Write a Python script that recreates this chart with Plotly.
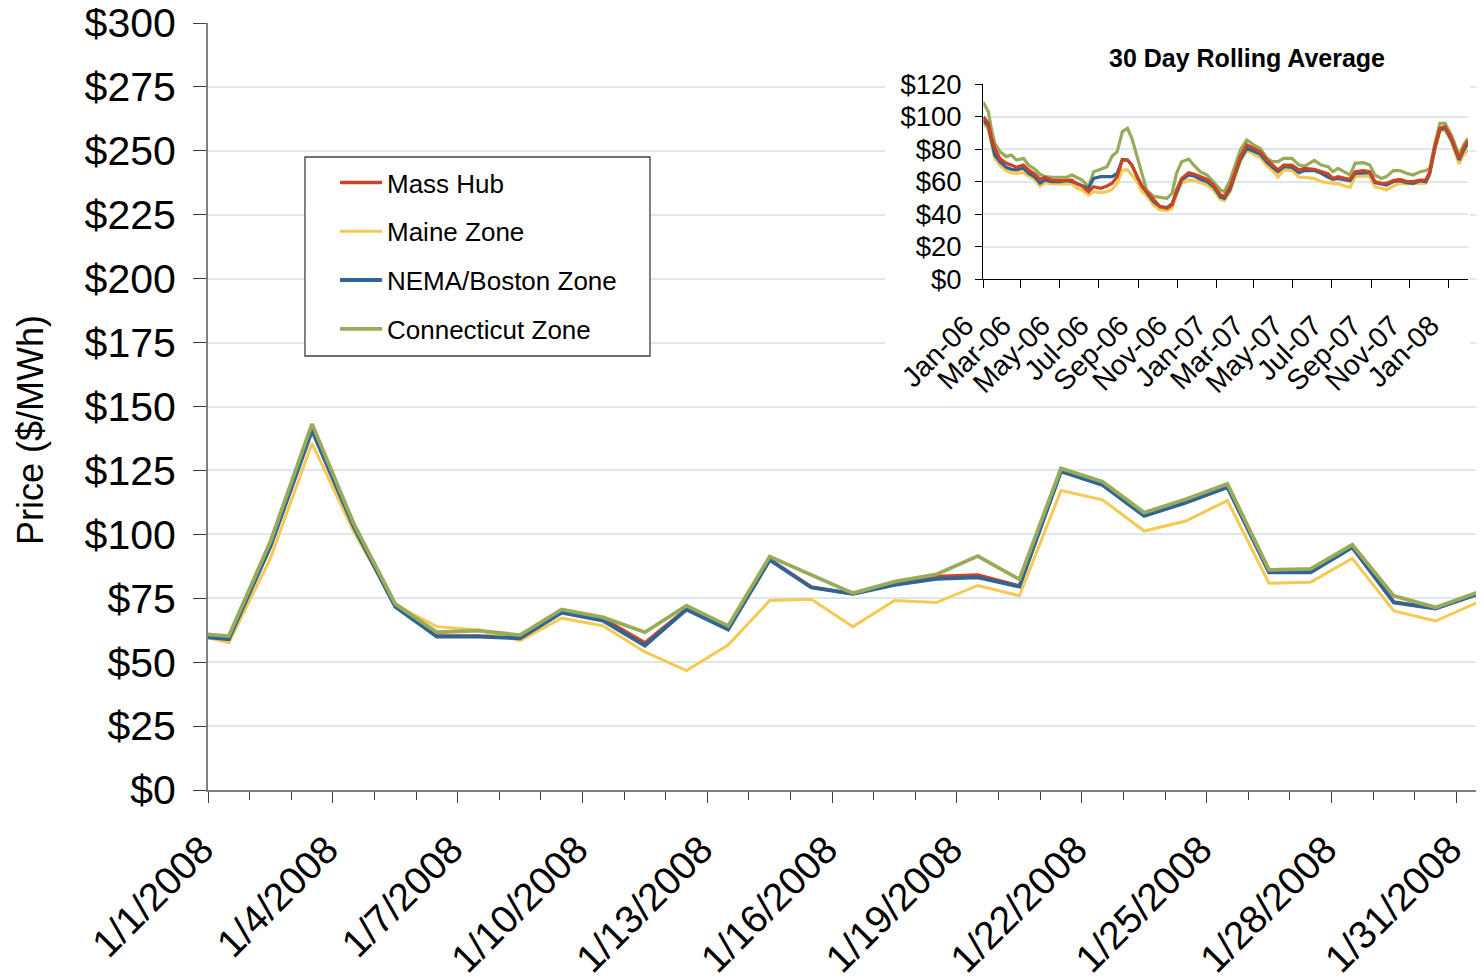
import pandas as pd
import plotly.graph_objects as go

FONT = "Liberation Sans, Arial, sans-serif"

# ---------------- main chart data (daily, shown at noon) ----------------
main_dates = [
    "2007-12-31 12:00", "2008-01-01 12:00", "2008-01-02 12:00", "2008-01-03 12:00",
    "2008-01-04 12:00", "2008-01-05 12:00", "2008-01-06 12:00", "2008-01-07 12:00",
    "2008-01-08 12:00", "2008-01-09 12:00", "2008-01-10 12:00", "2008-01-11 12:00",
    "2008-01-12 12:00", "2008-01-13 12:00", "2008-01-14 12:00", "2008-01-15 12:00",
    "2008-01-16 12:00", "2008-01-17 12:00", "2008-01-18 12:00", "2008-01-19 12:00",
    "2008-01-20 12:00", "2008-01-21 12:00", "2008-01-22 12:00", "2008-01-23 12:00",
    "2008-01-24 12:00", "2008-01-25 12:00", "2008-01-26 12:00", "2008-01-27 12:00",
    "2008-01-28 12:00", "2008-01-29 12:00", "2008-01-30 12:00", "2008-01-31 12:00",
]
mass_hub = [60.5, 59.2, 95.5, 141.0, 103.2, 71.9, 60.2, 60.2, 59.7, 69.6, 67.0, 57.6,
            70.8, 63.0, 90.2, 79.4, 76.8, 80.4, 83.5, 84.1, 79.8, 124.8, 119.5, 107.4,
            112.6, 118.6, 85.3, 85.3, 95.1, 73.5, 71.1, 76.6]
maine = [61.5, 57.6, 90.6, 135.6, 101.1, 72.4, 63.9, 62.6, 58.4, 67.2, 64.2, 54.0,
         46.7, 56.7, 74.1, 74.6, 63.9, 74.1, 73.3, 80.0, 76.0, 117.1, 113.5, 101.3,
         105.2, 113.2, 80.9, 81.3, 90.6, 70.0, 66.1, 73.3]
nema = [60.4, 59.0, 95.2, 140.6, 103.0, 71.7, 60.0, 60.0, 59.3, 69.4, 66.2, 56.5,
        70.6, 62.8, 90.0, 79.2, 76.7, 80.2, 82.6, 83.2, 79.6, 124.6, 119.3, 107.2,
        112.4, 118.4, 85.1, 85.1, 94.9, 73.3, 71.0, 76.5]
connecticut = [61.6, 60.2, 97.2, 143.2, 104.3, 72.8, 61.7, 62.3, 60.6, 70.6, 67.5, 61.7,
               72.1, 64.2, 91.3, 84.3, 77.0, 81.5, 84.3, 91.5, 82.4, 125.8, 120.6, 108.5,
               113.7, 119.7, 86.1, 86.5, 95.9, 75.9, 71.4, 77.2]

# ---------------- inset: 30 day rolling average ----------------
inset_dates = [
    "2006-01-01", "2006-01-09", "2006-01-14", "2006-01-19", "2006-01-27", "2006-02-06",
    "2006-02-14", "2006-02-22", "2006-03-05", "2006-03-13", "2006-03-23", "2006-03-31",
    "2006-04-08", "2006-04-18", "2006-05-01", "2006-05-12", "2006-05-20", "2006-05-28",
    "2006-06-05", "2006-06-15", "2006-06-23", "2006-07-04", "2006-07-14", "2006-07-22",
    "2006-07-30", "2006-08-07", "2006-08-15", "2006-08-22", "2006-08-30", "2006-09-07",
    "2006-09-14", "2006-09-25", "2006-10-05", "2006-10-16", "2006-10-24", "2006-10-31",
    "2006-11-08", "2006-11-19", "2006-11-27", "2006-12-07", "2006-12-18", "2006-12-28",
    "2007-01-08", "2007-01-14", "2007-01-23", "2007-01-31", "2007-02-08", "2007-02-18",
    "2007-03-01", "2007-03-11", "2007-03-22", "2007-03-30", "2007-04-08", "2007-04-17",
    "2007-04-30", "2007-05-11", "2007-05-20", "2007-06-04", "2007-06-15", "2007-06-26",
    "2007-07-03", "2007-07-11", "2007-07-22", "2007-07-30", "2007-08-07", "2007-08-20",
    "2007-08-30", "2007-09-07", "2007-09-17", "2007-09-25", "2007-10-06", "2007-10-16",
    "2007-10-27", "2007-11-06", "2007-11-17", "2007-11-26", "2007-12-02", "2007-12-10",
    "2007-12-18", "2007-12-26", "2008-01-05", "2008-01-17", "2008-01-24", "2008-01-31",
]
avg_mass_hub = [100, 96, 86.8, 80.6, 74.4, 71.4, 70.3, 68.9, 70.3, 67.3, 64.6, 61.5,
                62.8, 61.1, 60.7, 61.1, 61.1, 58.7, 57.4, 53.9, 57.0, 56.0, 57.4, 59.1,
                63.2, 73.4, 73.4, 70.3, 63.2, 57.0, 54.0, 48.8, 44.7, 43.7, 45.7, 55.0,
                62.1, 65.6, 64.8, 63.2, 61.5, 58.0, 51.9, 50.9, 57.0, 66.2, 75.5, 82.7,
                80.6, 78.6, 73.4, 70.3, 67.3, 70.3, 70.3, 67.3, 68.3, 67.7, 66.2, 64.8,
                62.1, 63.2, 62.1, 61.5, 66.2, 66.9, 66.2, 60.1, 59.1, 59.1, 60.7, 61.5,
                60.1, 60.1, 61.1, 61.1, 66.2, 81.6, 92.9, 93.9, 86.8, 74.4, 80.6, 85.3]
avg_maine = [96, 92, 83, 74.4, 70.3, 66.9, 65.6, 65.2, 65.6, 63.6, 61.1, 57.4,
             59.5, 58.7, 58.7, 59.1, 58.7, 56.0, 55.0, 51.9, 53.9, 53.3, 53.9, 55.4,
             59.1, 67.3, 67.3, 64.2, 60.1, 53.9, 51.5, 45.7, 42.7, 42.3, 43.7, 51.9,
             59.1, 61.1, 60.7, 59.5, 58.0, 55.0, 49.2, 48.4, 53.9, 62.8, 72.4, 79.2,
             77.1, 75.1, 69.7, 67.3, 62.8, 67.3, 66.9, 62.8, 62.8, 62.0, 60.1, 59.5,
             59.1, 58.7, 57.4, 56.6, 63.2, 63.6, 63.2, 57.0, 56.0, 55.0, 57.4, 59.1,
             58.7, 58.7, 59.1, 59.1, 64.2, 79.6, 90.9, 91.9, 84.7, 71.0, 76.5, 79.6]
avg_nema = [98, 94, 85, 76.5, 72.4, 68.9, 67.7, 67.3, 68.3, 65.2, 62.8, 59.1,
            61.1, 60.1, 60.1, 60.7, 60.1, 58.7, 57.4, 56.0, 62.1, 63.2, 63.2, 63.2,
            65.2, 73.8, 73.4, 70.3, 63.2, 57.4, 53.5, 47.8, 44.7, 44.2, 46.4, 53.9,
            61.1, 64.2, 63.6, 61.5, 60.1, 57.0, 50.5, 49.8, 55.4, 64.8, 73.8, 80.6,
            78.6, 77.1, 71.8, 68.9, 66.2, 69.3, 68.9, 65.6, 66.9, 66.9, 65.2, 62.8,
            61.5, 62.1, 61.5, 60.7, 65.2, 65.6, 65.6, 59.5, 58.7, 58.0, 60.1, 60.7,
            59.5, 59.1, 60.7, 60.1, 65.2, 80.6, 92.3, 92.9, 85.7, 73.4, 79.2, 83.7]
avg_connecticut = [109, 103, 91.9, 83.7, 78.6, 75.5, 76.5, 73.4, 74.4, 70.3, 67.7, 64.6,
                   63.2, 62.8, 62.8, 62.8, 64.2, 62.6, 61.1, 57.0, 66.2, 67.7, 69.3, 75.9,
                   78.6, 90.9, 92.9, 86.8, 75.5, 63.2, 55.0, 51.0, 50.2, 49.8, 52.9, 65.2,
                   72.4, 74.0, 70.3, 66.2, 64.2, 60.1, 55.0, 53.9, 61.1, 70.3, 79.6, 85.7,
                   82.7, 80.6, 74.4, 72.4, 72.4, 74.4, 74.4, 70.3, 69.7, 73.2, 70.3, 69.3,
                   66.2, 68.3, 66.2, 64.2, 71.4, 71.8, 70.3, 64.2, 62.1, 63.2, 66.9, 66.9,
                   65.2, 64.2, 66.2, 66.9, 68.3, 83.7, 96.0, 96.0, 88.8, 76.5, 82.7, 86.8]

inset_tickvals = ["2006-01-01", "2006-03-01", "2006-05-01", "2006-07-01", "2006-09-01",
                  "2006-11-01", "2007-01-01", "2007-03-01", "2007-05-01", "2007-07-01",
                  "2007-09-01", "2007-11-01", "2008-01-01"]
inset_ticktext = ["Jan-06", "Mar-06", "May-06", "Jul-06", "Sep-06", "Nov-06", "Jan-07",
                  "Mar-07", "May-07", "Jul-07", "Sep-07", "Nov-07", "Jan-08"]

names = ["Mass Hub", "Maine Zone", "NEMA/Boston Zone", "Connecticut Zone"]
colors = ["#CB4424", "#F6C955", "#2F6495", "#98AB5B"]
main_series = [mass_hub, maine, nema, connecticut]
inset_series = [avg_mass_hub, avg_maine, avg_nema, avg_connecticut]

# geometry (page pixels; the page body has an 8px margin)
PAGE_OFF = 8
PLOT_L, PLOT_R, PLOT_T, PLOT_B = 208, 1484, 23, 790
X_START = pd.Timestamp("2008-01-01 00:00")
X_END = pd.Timestamp("2008-01-31 16:00")
Y_MAX = 300


def px_to_date(px):
    frac = (px - PLOT_L) / (PLOT_R - PLOT_L)
    return (X_START + (X_END - X_START) * frac).strftime("%Y-%m-%d %H:%M")


def py_to_val(py):
    return (PLOT_B - py) / (PLOT_B - PLOT_T) * Y_MAX


def px_paper(px):
    return (px - PLOT_L) / (PLOT_R - PLOT_L)


def py_paper(py):
    return (PLOT_B - py) / (PLOT_B - PLOT_T)


fig = go.Figure()

main_widths = [3.5, 3.0, 3.8, 3.8]
for name, col, ys, w in zip(names, colors, main_series, main_widths):
    fig.add_trace(go.Scatter(x=main_dates, y=ys, name=name, mode="lines",
                             line=dict(color=col, width=w), legendgroup=name,
                             xaxis="x", yaxis="y"))

# inset order: yellow, green, blue, red (red on top)
for idx in [1, 3, 2, 0]:
    fig.add_trace(go.Scatter(x=inset_dates, y=inset_series[idx], name=names[idx],
                             mode="lines", line=dict(color=colors[idx], width=3.2),
                             showlegend=False, xaxis="x2", yaxis="y2"))

GRID = "#DCE8EC"
FIG_W = 1484 - PAGE_OFF
FIG_H = 980 - PAGE_OFF
fig.update_layout(
    width=FIG_W, height=FIG_H,
    margin=dict(l=PLOT_L - PAGE_OFF, r=0, t=PLOT_T - PAGE_OFF,
                b=FIG_H - (PLOT_B - PAGE_OFF), autoexpand=False),
    paper_bgcolor="white", plot_bgcolor="white",
    font=dict(family=FONT, color="black"),
    showlegend=True,
    legend=dict(x=px_paper(335), y=py_paper(159), xanchor="left", yanchor="top",
                bgcolor="rgba(0,0,0,0)", borderwidth=0,
                font=dict(size=26, family=FONT, color="black"),
                traceorder="grouped", tracegroupgap=12, itemwidth=42),
    xaxis=dict(
        type="date", domain=[0, 1],
        range=[X_START.strftime("%Y-%m-%d %H:%M"), X_END.strftime("%Y-%m-%d %H:%M")],
        tick0="2008-01-01", dtick=3 * 86400000, tickformat="%-m/%-d/%Y",
        tickangle=-45, tickfont=dict(size=39, family=FONT, color="black"),
        ticks="outside", ticklen=11, tickcolor="#404040", tickwidth=1.3,
        ticklabelstandoff=8, ticklabelshift=-6, ticklabeloverflow="allow",
        minor=dict(dtick=86400000, ticks="outside", ticklen=8, tickcolor="#404040",
                   tickwidth=1.3, showgrid=False),
        showline=True, linecolor="#808080", linewidth=2,
        showgrid=False, zeroline=False,
    ),
    yaxis=dict(
        range=[0, Y_MAX], dtick=25, tickprefix="$",
        tickfont=dict(size=41, family=FONT, color="black"),
        ticks="outside", ticklen=13, tickcolor="#404040", tickwidth=1.3,
        ticklabelstandoff=9, ticklabeloverflow="allow",
        showline=True, linecolor="#808080", linewidth=2,
        showgrid=True, gridcolor=GRID, gridwidth=1.5, zeroline=False,
    ),
    xaxis2=dict(
        type="date", domain=[px_paper(983.3), px_paper(1468)], anchor="y2",
        range=["2006-01-01", "2008-01-31"],
        tickvals=inset_tickvals, ticktext=inset_ticktext, tickangle=-45,
        tickfont=dict(size=28.5, family=FONT, color="black"),
        ticks="outside", ticklen=8, tickcolor="black",
        ticklabelstandoff=9, ticklabelshift=-18, ticklabeloverflow="allow",
        showline=True, linecolor="black", linewidth=1.3,
        showgrid=False, zeroline=False,
    ),
    yaxis2=dict(
        domain=[py_paper(279.3), py_paper(84.3)], anchor="x2",
        range=[0, 120], dtick=20, tickprefix="$",
        tickfont=dict(size=27.5, family=FONT, color="black"),
        ticks="outside", ticklen=7, tickcolor="black",
        ticklabelstandoff=8, ticklabeloverflow="allow",
        showline=True, linecolor="black", linewidth=1.3,
        showgrid=True, gridcolor=GRID, gridwidth=1.5, zeroline=False,
    ),
)

# white boxes hiding main gridlines behind the inset and the legend
fig.add_shape(type="rect", xref="x", yref="y",
              x0=px_to_date(885), x1=px_to_date(1470),
              y0=py_to_val(395), y1=py_to_val(30),
              line=dict(width=0), fillcolor="white", layer="between")
fig.add_shape(type="rect", xref="x", yref="y",
              x0=px_to_date(305), x1=px_to_date(650),
              y0=py_to_val(356), y1=py_to_val(157),
              line=dict(width=1.3, color="#404040"), fillcolor="white", layer="between")

fig.add_annotation(text="Price ($/MWh)", xref="paper", yref="paper",
                   x=px_paper(30), y=py_paper(430), textangle=-90,
                   showarrow=False, xanchor="center", yanchor="middle",
                   font=dict(size=36, family=FONT, color="black"))
fig.add_annotation(text="<b>30 Day Rolling Average</b>", xref="paper", yref="paper",
                   x=px_paper(1247), y=py_paper(58),
                   showarrow=False, xanchor="center", yanchor="middle",
                   font=dict(size=25, family=FONT, color="black"))

fig.write_html("out.html")
